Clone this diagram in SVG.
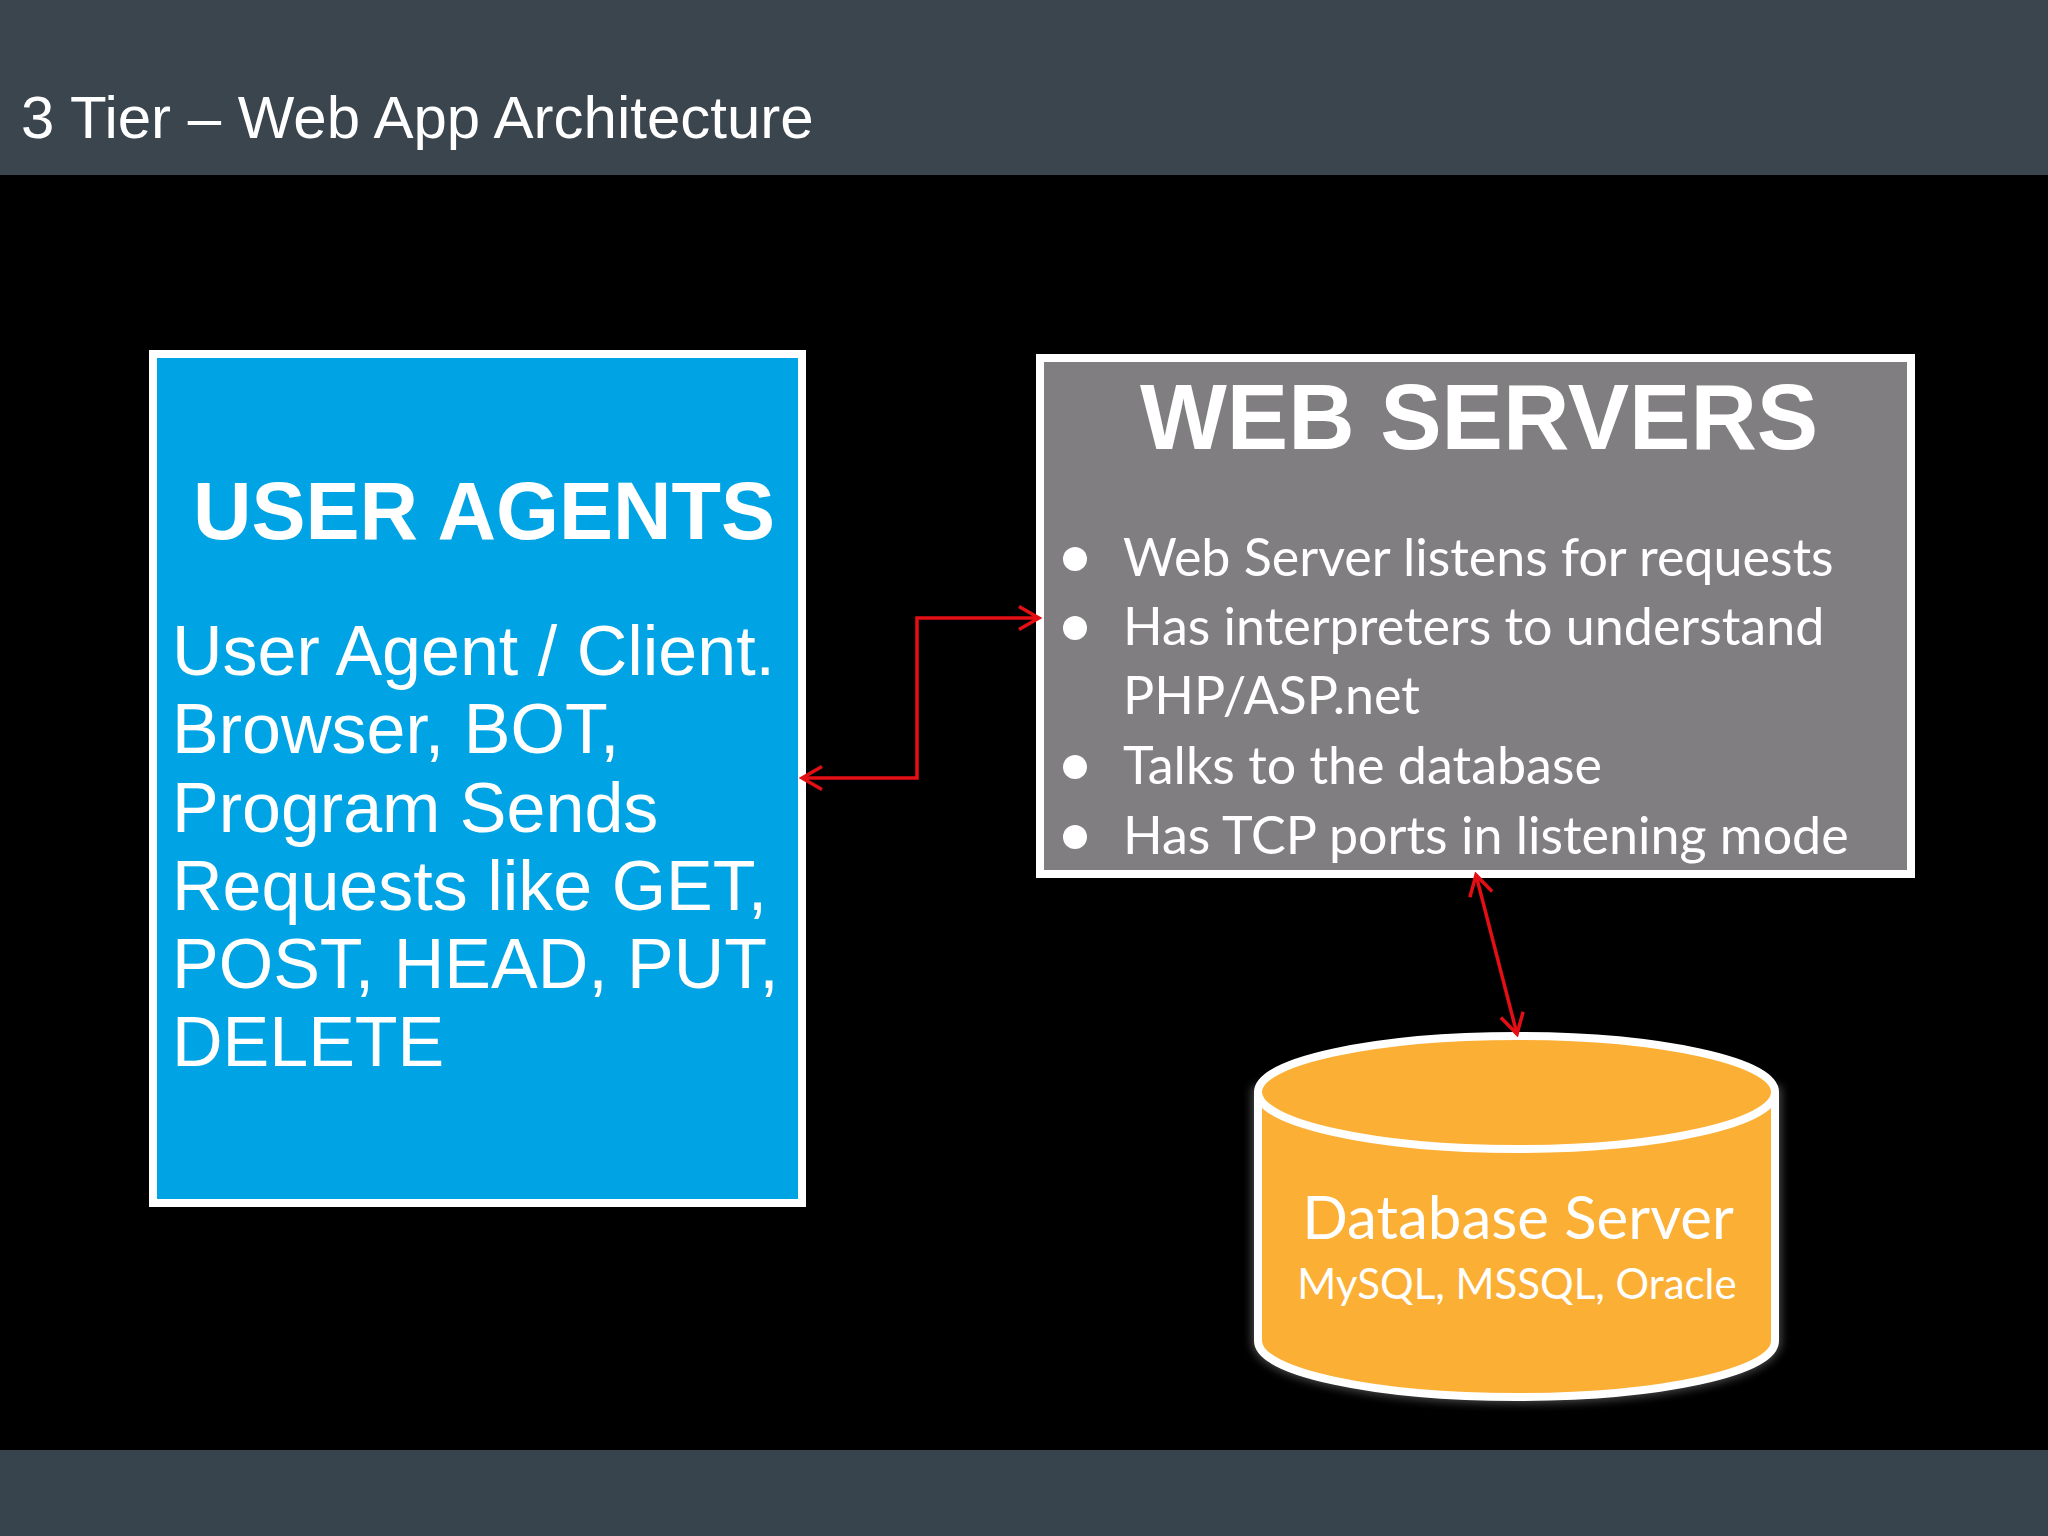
<svg xmlns="http://www.w3.org/2000/svg" width="2048" height="1536" viewBox="0 0 2048 1536">
<style>
.a{font-family:"Liberation Sans",Arial,sans-serif;fill:#fff}
.l{font-family:Lato,"Open Sans",sans-serif;fill:#fff}
.b{font-weight:700}
.c{fill:none;stroke:#e40f14;stroke-width:3.5}
.body{font-size:70px}
.li{font-size:52px}
</style>
<defs>
<marker id="h" viewBox="0 0 24 28" refX="21" refY="14" markerWidth="24" markerHeight="28" markerUnits="userSpaceOnUse" orient="auto-start-reverse"><path d="M1 2.500L21 14L1 25.500" fill="none" stroke="#e40f14" stroke-width="3.500"/></marker>
<filter id="g" x="-10%" y="-10%" width="120%" height="120%"><feGaussianBlur stdDeviation="5"/></filter>
</defs>
<rect width="2048" height="1536" fill="#000"/>
<rect id="header" width="2048" height="175" fill="#3a454e"/>
<rect id="footer" y="1450" width="2048" height="86" fill="#37434d"/>
<text class="a" x="21" y="138" font-size="60">3 Tier – Web App Architecture</text>
<g id="user-agents">
<rect x="153" y="354" width="649" height="849" fill="#00a3e3" stroke="#fff" stroke-width="8"/>
<text class="a b" x="193" y="539" font-size="81">USER AGENTS</text>
<g class="a body">
<text x="172" y="675">User Agent / Client.</text>
<text x="172" y="753">Browser, BOT,</text>
<text x="172" y="832">Program Sends</text>
<text x="172" y="910">Requests like GET,</text>
<text x="172" y="988">POST, HEAD, PUT,</text>
<text x="172" y="1066">DELETE</text>
</g>
</g>
<g id="web-servers">
<rect x="1040" y="358" width="871" height="516" fill="#807e81" stroke="#fff" stroke-width="8"/>
<text class="a b" x="1140" y="449" font-size="92">WEB SERVERS</text>
<g fill="#fff">
<circle cx="1075" cy="559" r="12"/><circle cx="1075" cy="628" r="12"/><circle cx="1075" cy="767" r="12"/><circle cx="1075" cy="837" r="12"/>
</g>
<g class="l li">
<text x="1123" y="576">Web Server listens for requests</text>
<text x="1123" y="645">Has interpreters to understand</text>
<text x="1123" y="714">PHP/ASP.net</text>
<text x="1123" y="784">Talks to the database</text>
<text x="1123" y="854">Has TCP ports in listening mode</text>
</g>
</g>
<g id="database">
<path d="M1258 1092V1341C1258 1372 1374 1397 1517 1397S1775 1372 1775 1341V1092Z" fill="none" stroke="#fff" stroke-width="12" opacity=".3" filter="url(#g)"/>
<path d="M1258 1092V1341C1258 1372 1374 1397 1517 1397S1775 1372 1775 1341V1092C1775 1061 1659 1036 1517 1036S1258 1061 1258 1092Z" fill="#fcaf35" stroke="#fff" stroke-width="8"/>
<path d="M1258 1092C1258 1123 1374 1149 1517 1149S1775 1123 1775 1092" fill="none" stroke="#fff" stroke-width="8"/>
<text class="l" x="1518" y="1239" font-size="60" text-anchor="middle">Database Server</text>
<text class="l" x="1517" y="1299" font-size="42" text-anchor="middle">MySQL, MSSQL, Oracle</text>
</g>
<g id="connectors">
<path class="c" d="M802 778H917V618H1039" marker-start="url(#h)" marker-end="url(#h)"/>
<path class="c" d="M1476 875L1517 1034" marker-start="url(#h)" marker-end="url(#h)"/>
</g>
</svg>
